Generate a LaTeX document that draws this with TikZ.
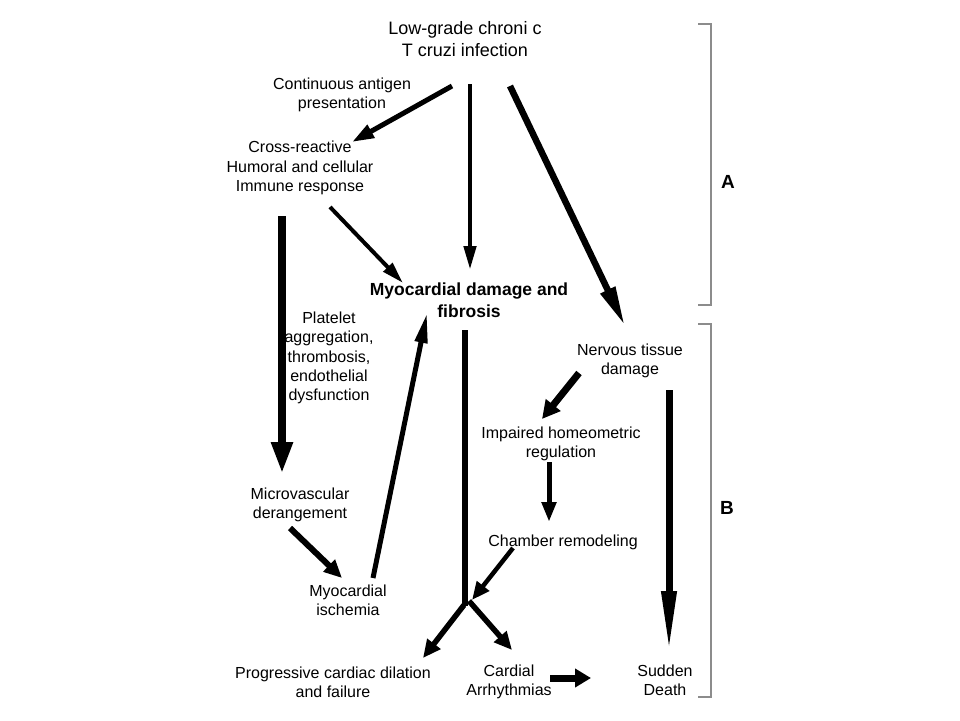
\documentclass[tikz,border=0pt]{standalone}
\usepackage{fontspec}
\setmainfont{Liberation Sans}
\usetikzlibrary{arrows.meta}
\begin{document}
\begin{tikzpicture}[x=1pt,y=-1pt,
  lbl/.style={align=center,inner sep=0pt,font=\fontsize{16}{19.4}\selectfont},
  toplbl/.style={align=center,inner sep=0pt,font=\fontsize{18}{22}\selectfont},
  boldlbl/.style={align=center,inner sep=0pt,font=\fontsize{17.5}{22}\selectfont\bfseries},
  seclbl/.style={inner sep=0pt,font=\fontsize{19}{22}\selectfont\bfseries},
  conn/.style={draw=black,line width=#1},
  hd/.style 2 args={-{Triangle[length=#1,width=#2]}},
  brk/.style={draw=black!45,line width=1.4pt}]
\useasboundingbox (0,0) rectangle (960,720);
% labels
\node[toplbl] (top) at (465,39) {Low-grade chroni c\\T cruzi infection};
\node[lbl] (cont) at (342,95) {Continuous antigen\\presentation};
\node[lbl] (cross) at (300,168) {Cross-reactive\\Humoral and cellular\\Immune response};
\node[boldlbl] (myo) at (469,300) {Myocardial damage and\\fibrosis};
\node[lbl] (plat) at (329,358) {Platelet\\aggregation,\\thrombosis,\\endothelial\\dysfunction};
\node[lbl] (micro) at (300,505) {Microvascular\\derangement};
\node[lbl] (isch) at (348,600) {Myocardial\\ischemia};
\node[lbl] (nerv) at (630,361) {Nervous tissue\\damage};
\node[lbl] (imp) at (561,444) {Impaired homeometric\\regulation};
\node[lbl] (cham) at (563,542) {Chamber remodeling};
\node[lbl] (prog) at (333,682) {Progressive cardiac dilation\\and failure};
\node[lbl] (arrh) at (509,682) {Cardial\\Arrhythmias};
\node[lbl] (sud) at (665,680) {Sudden\\Death};
\node[seclbl] (secA) at (728,182) {A};
\node[seclbl] (secB) at (727,508) {B};
% connector end points
\coordinate (t1) at (452,86);   \coordinate (cr1) at (352,142);
\coordinate (t2) at (470,84);   \coordinate (my1) at (470,270);
\coordinate (t3) at (510,86);   \coordinate (nv1) at (625,326);
\coordinate (cr2) at (330,207); \coordinate (my2) at (403,283);
\coordinate (cr3) at (282,216); \coordinate (mi1) at (282,474);
\coordinate (mi2) at (290,528); \coordinate (is1) at (342,578);
\coordinate (is2) at (373,578); \coordinate (my3) at (427,313);
\coordinate (my4) at (465,330); \coordinate (jn) at (465,606);
\coordinate (jl) at (464,605);  \coordinate (pr1) at (423,658);
\coordinate (jr) at (469,601);  \coordinate (ar1) at (512,650);
\coordinate (ch1) at (513,548); \coordinate (jc) at (472,600);
\coordinate (nv2) at (579,373); \coordinate (im1) at (542,419);
\coordinate (im2) at (549,462); \coordinate (ch2) at (549,522);
\coordinate (nv3) at (669,390); \coordinate (sd1) at (669,653);
\coordinate (ar2) at (550,678); \coordinate (sd2) at (591,678);
% connectors
\draw[conn=5pt,hd={22}{14}] (t1) -- (cr1);
\draw[conn=4.5pt,hd={24}{12}] (t2) -- (my1);
\draw[conn=6.5pt,hd={40}{15}] (t3) -- (nv1);
\draw[conn=4pt,hd={22}{12}] (cr2) -- (my2);
\draw[conn=8pt,hd={32}{20}] (cr3) -- (mi1);
\draw[conn=6pt,hd={18}{16}] (mi2) -- (is1);
\draw[conn=5pt,hd={30}{12}] (is2) -- (my3);
\draw[conn=6.5pt] (my4) -- (jn);
\draw[conn=5.5pt,hd={18}{16}] (jl) -- (pr1);
\draw[conn=5.5pt,hd={18}{16}] (jr) -- (ar1);
\draw[conn=4.5pt,hd={18}{15}] (ch1) -- (jc);
\draw[conn=7pt,hd={18}{18}] (nv2) -- (im1);
\draw[conn=5pt,hd={20}{14}] (im2) -- (ch2);
\draw[conn=7pt,hd={62}{14}] (nv3) -- (sd1);
\draw[conn=7pt,hd={16}{18}] (ar2) -- (sd2);
% brackets
\draw[brk] (698,24) -- (711,24) -- (711,305) -- (698,305);
\draw[brk] (698,324) -- (711,324) -- (711,697) -- (698,697);
\end{tikzpicture}
\end{document}
